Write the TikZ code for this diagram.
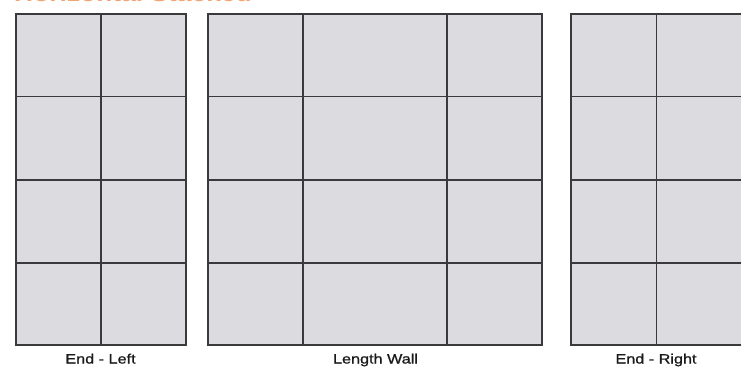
\documentclass[tikz,border=0pt]{standalone}
\usepackage{fontspec}
\setmainfont{Liberation Sans}
\newfontfamily\lblfont[FakeStretch=1.2,FakeBold=0.9]{Liberation Sans}
\newfontfamily\ttlfont[FakeStretch=1.2]{Liberation Sans}
\definecolor{tilefill}{RGB}{220,219,224}
\definecolor{tileline}{RGB}{58,58,60}
\definecolor{titleorange}{RGB}{242,165,115}
\begin{document}
\begin{tikzpicture}[x=1pt,y=-1pt,
  panel/.style={fill=tilefill,draw=tileline,line width=1.3pt},
  joint/.style={draw=tileline,line width=1.3pt},
  lbl/.style={font=\lblfont\fontsize{13.5}{16}\selectfont,text=black!90,inner sep=0pt,anchor=base}]
\useasboundingbox (0,0) rectangle (741,369);
\clip (0,0) rectangle (741,369);
% title (cut off at top)
\node[font=\ttlfont\bfseries\fontsize{22}{26}\selectfont,text=titleorange,anchor=base west,inner sep=0pt] (title) at (14,1.2) {Horizontal Stacked};
% End - Left
\draw[panel] (16,14) rectangle (186,345);
\draw[joint] (101,14) -- (101,345);
\foreach \y in {96.5,180,263} \draw[joint] (16,\y) -- (186,\y);
% Length Wall
\draw[panel] (208,14) rectangle (542,345);
\foreach \x in {303,447} \draw[joint] (\x,14) -- (\x,345);
\foreach \y in {96.5,180,263} \draw[joint] (208,\y) -- (542,\y);
% End - Right
\draw[panel] (571,14) rectangle (760,345);
\draw[joint] (656.5,14) -- (656.5,345);
\foreach \y in {96.5,180,263} \draw[joint] (571,\y) -- (760,\y);
% labels
\node[lbl] (l1) at (100.5,363.5) {End - Left};
\node[lbl] (l2) at (375.5,363.5) {Length Wall};
\node[lbl] (l3) at (656,363.5) {End - Right};
\end{tikzpicture}
\end{document}
